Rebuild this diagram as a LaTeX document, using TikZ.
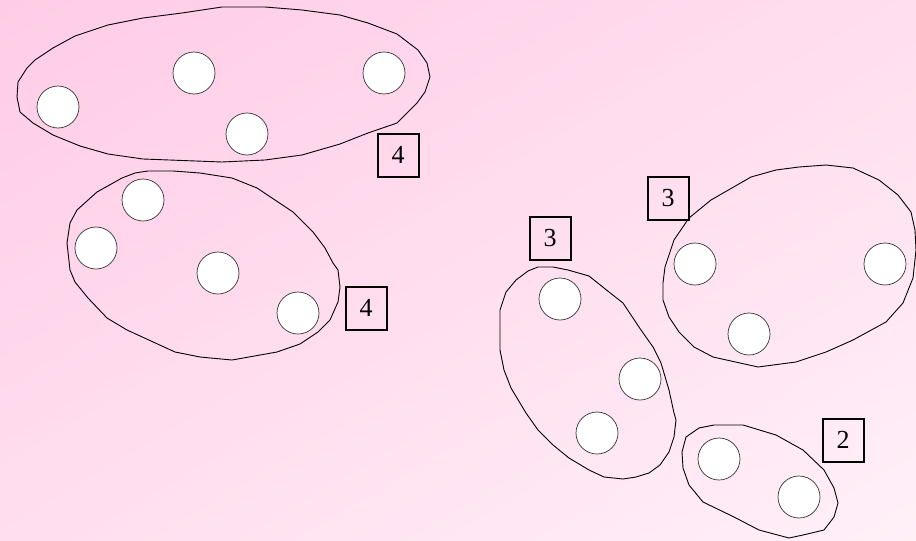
\documentclass[tikz,border=0pt]{standalone}
\usepackage{fontspec}
\setmainfont{Liberation Serif}
\definecolor{bgA}{RGB}{255,204,230}
\definecolor{bgB}{RGB}{255,240,248}
\begin{document}
\begin{tikzpicture}[x=1pt,y=-1pt,
  dot/.style={circle,draw=black!80,fill=white,line width=0.7pt,minimum size=42pt,inner sep=0pt},
  lbl/.style={draw=black,line width=2pt,minimum width=41pt,minimum height=43pt,inner sep=0pt,font=\fontsize{26}{30}\selectfont},
  blob/.style={draw=black,line width=0.9pt}]
\useasboundingbox (0,0) rectangle (916,541);
\begin{scope}
\clip (0,0) rectangle (916,541);
\foreach \i in {0,...,99}{
  \pgfmathsetmacro{\ta}{\i/50}
  \pgfmathsetmacro{\tb}{(\i+1.3)/50}
  \colorlet{stripc}{bgB!\i!bgA}
  \fill[stripc] ({916*(\ta+1)},-541) -- ({916*(\tb+1)},-541) -- ({916*(\tb-2)},1082) -- ({916*(\ta-2)},1082) -- cycle;
}
\end{scope}
% outlines
\draw[blob] (222,7) -- (265,7) -- (302,10) -- (340,15) -- (368,23) -- (397,34) -- (418,50) -- (427,63) -- (430,77) -- (425,92) -- (417,103) -- (397,123) -- (368,133) -- (340,144) -- (302,155) -- (265,160) -- (222,162) -- (143,159) -- (108,154) -- (80,146) -- (53,135) -- (33,123) -- (20,112) -- (17,97) -- (18,82) -- (27,68) -- (35,60) -- (53,48) -- (75,36) -- (108,25) -- (143,18) -- (182,13) -- cycle;
\draw[blob] (148,171) -- (173,171) -- (200,173) -- (232,178) -- (257,188) -- (293,212) -- (313,232) -- (325,248) -- (333,263) -- (338,270) -- (340,287) -- (338,302) -- (330,320) -- (318,332) -- (300,344) -- (277,352) -- (232,360) -- (200,357) -- (175,352) -- (127,330) -- (107,318) -- (88,298) -- (75,282) -- (70,270) -- (67,243) -- (70,223) -- (77,210) -- (97,192) -- (122,178) -- (135,173) -- cycle;
\draw[blob] (538,267) -- (553,267) -- (568,270) -- (589,276) -- (609,292) -- (623,303) -- (641,330) -- (653,347) -- (661,363) -- (669,390) -- (674,413) -- (676,420) -- (674,437) -- (669,452) -- (660,465) -- (649,473) -- (636,477) -- (623,479) -- (604,477) -- (589,470) -- (569,458) -- (553,445) -- (538,430) -- (526,413) -- (511,388) -- (504,370) -- (500,350) -- (500,310) -- (506,292) -- (516,280) -- (528,271) -- cycle;
\draw[blob] (826,165) -- (853,168) -- (879,180) -- (898,195) -- (911,212) -- (915,230) -- (916,250) -- (913,278) -- (903,303) -- (886,322) -- (853,340) -- (826,352) -- (796,362) -- (758,367) -- (713,357) -- (694,347) -- (679,332) -- (669,317) -- (663,300) -- (663,283) -- (665,267) -- (674,240) -- (689,218) -- (711,200) -- (751,177) -- (776,170) -- (799,167) -- cycle;
\draw[blob] (714,425) -- (743,425) -- (776,435) -- (803,450) -- (824,470) -- (834,488) -- (838,503) -- (834,517) -- (824,530) -- (803,535) -- (789,538) -- (759,530) -- (734,517) -- (703,502) -- (689,485) -- (683,468) -- (682,452) -- (686,437) -- (699,428) -- cycle;
% dots
\node[dot] (a1) at (194,73) {};
\node[dot] (a2) at (384,73) {};
\node[dot] (a3) at (58,107) {};
\node[dot] (a4) at (247,134) {};
\node[dot] (b1) at (143,200) {};
\node[dot] (b2) at (96,248) {};
\node[dot] (b3) at (218,273) {};
\node[dot] (b4) at (298,313) {};
\node[dot] (c1) at (560,299) {};
\node[dot] (c2) at (640,379) {};
\node[dot] (c3) at (597,433) {};
\node[dot] (d1) at (695,264) {};
\node[dot] (d2) at (885,264) {};
\node[dot] (d3) at (749,334) {};
\node[dot] (e1) at (719,459) {};
\node[dot] (e2) at (799,497) {};
% labels
\node[lbl] (la) at (398,155) {4};
\node[lbl] (lb) at (366,308) {4};
\node[lbl] (lc) at (550,238) {3};
\node[lbl] (ld) at (668,198) {3};
\node[lbl] (le) at (843,440) {2};
\end{tikzpicture}
\end{document}
